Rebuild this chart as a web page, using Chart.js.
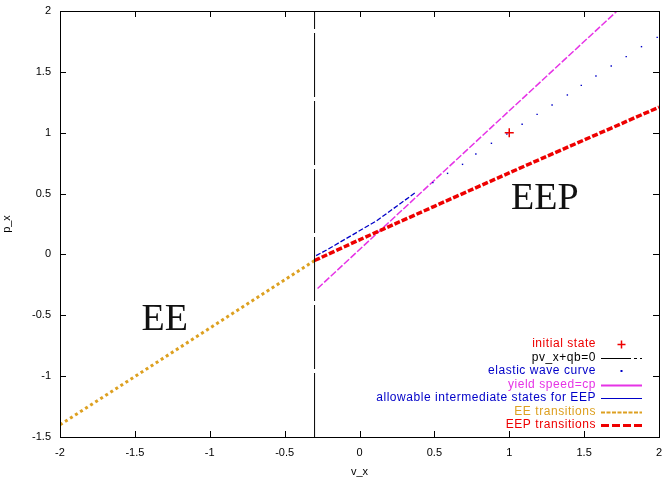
<!DOCTYPE html>
<html>
<head>
<meta charset="utf-8">
<script src="https://cdn.jsdelivr.net/npm/chart.js@4/dist/chart.umd.min.js"></script>
<style>
html,body{margin:0;padding:0;background:#fff;}
#c{display:block;}
</style>
</head>
<body>
<canvas id="c" width="668" height="478"></canvas>
<script>
// ---- data ----
const xTicks = [-2, -1.5, -1, -0.5, 0, 0.5, 1, 1.5, 2];
const yTicks = [-1.5, -1, -0.5, 0, 0.5, 1, 1.5, 2];

const initialStateX = [1];
const initialStateY = [1];

const pvLineX = [-0.3, -0.3];
const pvLineY = [-1.5, 2];

const elasticX = [0.49, 0.588, 0.688, 0.777, 0.881, 0.984, 1.086, 1.186, 1.286, 1.388, 1.481, 1.579, 1.681, 1.781, 1.883, 1.988];
const elasticY = [0.59, 0.666, 0.74, 0.825, 0.913, 0.99, 1.069, 1.151, 1.228, 1.31, 1.389, 1.466, 1.548, 1.625, 1.707, 1.783];

const yieldX = [-0.28, 0.5, 1.0, 1.72];
const yieldY = [-0.28, 0.61, 1.18, 2.0];

const allowX = [-0.29, -0.22, 0.115, 0.37];
const allowY = [-0.01, 0.036, 0.277, 0.505];

const eeX = [-2, -1, -0.3];
const eeY = [-1.4, -0.606, -0.05];

const eepX = [-0.3, 0, 1, 2];
const eepY = [-0.05, 0.12, 0.67, 1.21];

const seriesLabels = ["initial state", "pv_x+qb=0", "elastic wave curve", "yield speed=cp",
  "allowable intermediate states for EEP", "EE transitions", "EEP transitions"];

const RED = '#ee0000', BLUE = '#0000c8', MAG = '#e633e6', ORANGE = '#dda020', BLACK = '#000000';

function pts(xs, ys) { return xs.map((x, i) => ({x: x, y: ys[i]})); }

const regionLabels = [
  {text: 'EE', x: -1.3, y: -0.62},
  {text: 'EEP', x: 1.237, y: 0.37}
];

const overlay = {
  id: 'overlay',
  afterDraw(chart) {
    const ctx = chart.ctx;
    const a = chart.chartArea;
    const xs = chart.scales.x, ys = chart.scales.y;
    ctx.save();
    // frame
    ctx.strokeStyle = '#000';
    ctx.lineWidth = 1;
    ctx.strokeRect(Math.round(a.left) + 0.5, Math.round(a.top) + 0.5,
      Math.round(a.right - a.left), Math.round(a.bottom - a.top));
    // ticks (inward, mirrored)
    const tl = 6;
    ctx.beginPath();
    xTicks.forEach(v => {
      const px = Math.round(xs.getPixelForValue(v)) + 0.5;
      ctx.moveTo(px, a.bottom); ctx.lineTo(px, a.bottom - tl);
      ctx.moveTo(px, a.top); ctx.lineTo(px, a.top + tl);
    });
    yTicks.forEach(v => {
      const py = Math.round(ys.getPixelForValue(v)) + 0.5;
      ctx.moveTo(a.left, py); ctx.lineTo(a.left + tl, py);
      ctx.moveTo(a.right, py); ctx.lineTo(a.right - tl, py);
    });
    ctx.stroke();

    // axis titles
    ctx.fillStyle = '#000';
    ctx.font = '11px "Liberation Sans", Arial, sans-serif';
    ctx.textAlign = 'center';
    ctx.textBaseline = 'middle';
    ctx.fillText('v_x', (a.left + a.right) / 2, 472);
    ctx.save();
    ctx.translate(7, (a.top + a.bottom) / 2);
    ctx.rotate(-Math.PI / 2);
    ctx.fillText('p_x', 0, 0);
    ctx.restore();

    // region labels
    ctx.font = '38px "Liberation Serif", "Times New Roman", serif';
    ctx.fillStyle = '#111';
    ctx.textBaseline = 'alphabetic';
    regionLabels.forEach(r => {
      ctx.fillText(r.text, xs.getPixelForValue(r.x), ys.getPixelForValue(r.y));
    });

    // legend
    const textRight = 596, sL = 601, sR = 642, y0 = 344, dy = 13.5;
    ctx.font = '12px "Liberation Sans", Arial, sans-serif';
    ctx.textAlign = 'right';
    ctx.textBaseline = 'middle';
    try { ctx.letterSpacing = '0.55px'; } catch (e) {}
    const legendColors = [RED, BLACK, BLUE, MAG, BLUE, ORANGE, RED];
    seriesLabels.forEach((lab, i) => {
      const y = y0 + i * dy;
      ctx.fillStyle = legendColors[i];
      ctx.fillText(lab, textRight, y);
    });
    try { ctx.letterSpacing = '0px'; } catch (e) {}
    // samples
    const yy = i => Math.round(y0 + i * dy) + 0.5;
    const cx = (sL + sR) / 2;
    ctx.strokeStyle = RED; ctx.lineWidth = 1.5; ctx.setLineDash([]);
    ctx.beginPath();
    ctx.moveTo(cx - 4, yy(0)); ctx.lineTo(cx + 4, yy(0));
    ctx.moveTo(cx, yy(0) - 4); ctx.lineTo(cx, yy(0) + 4);
    ctx.stroke();
    ctx.strokeStyle = BLACK; ctx.lineWidth = 1; ctx.setLineDash([30, 3, 3, 3]);
    ctx.beginPath(); ctx.moveTo(sL, yy(1)); ctx.lineTo(sR, yy(1)); ctx.stroke();
    ctx.setLineDash([]);
    ctx.fillStyle = BLUE;
    ctx.fillRect(cx - 1, yy(2) - 1.5, 2, 2);
    ctx.strokeStyle = MAG; ctx.lineWidth = 2;
    ctx.beginPath(); ctx.moveTo(sL, yy(3)); ctx.lineTo(sR, yy(3)); ctx.stroke();
    ctx.strokeStyle = BLUE; ctx.lineWidth = 1;
    ctx.beginPath(); ctx.moveTo(sL, yy(4)); ctx.lineTo(sR, yy(4)); ctx.stroke();
    ctx.strokeStyle = ORANGE; ctx.lineWidth = 2; ctx.setLineDash([4, 1.5]);
    ctx.beginPath(); ctx.moveTo(sL, yy(5)); ctx.lineTo(sR, yy(5)); ctx.stroke();
    ctx.strokeStyle = RED; ctx.lineWidth = 3; ctx.setLineDash([8, 3]);
    ctx.beginPath(); ctx.moveTo(sL, yy(6)); ctx.lineTo(sR, yy(6)); ctx.stroke();
    ctx.restore();
  }
};

const tickFont = { family: '"Liberation Sans", Arial, sans-serif', size: 11 };

new Chart(document.getElementById('c'), {
  type: 'scatter',
  data: {
    datasets: [
      { label: seriesLabels[0], data: pts(initialStateX, initialStateY), showLine: false,
        pointStyle: 'cross', pointRadius: 4.5, borderColor: RED, backgroundColor: RED, pointBorderWidth: 1.5 },
      { label: seriesLabels[1], data: pts(pvLineX, pvLineY), showLine: true, pointRadius: 0,
        borderColor: BLACK, borderWidth: 1, borderDash: [64, 4] },
      { label: seriesLabels[2], data: pts(elasticX, elasticY), showLine: false,
        pointStyle: 'rect', pointRadius: 1, borderWidth: 0, backgroundColor: BLUE, borderColor: BLUE },
      { label: seriesLabels[6], data: pts(eepX, eepY), showLine: true, pointRadius: 0,
        borderColor: RED, borderWidth: 3.5, borderDash: [6, 2], tension: 0.2 },
      { label: seriesLabels[5], data: pts(eeX, eeY), showLine: true, pointRadius: 0,
        borderColor: ORANGE, borderWidth: 3, borderDash: [3, 3] },
      { label: seriesLabels[3], data: pts(yieldX, yieldY), showLine: true, pointRadius: 0,
        borderColor: MAG, borderWidth: 1.5, borderDash: [7, 2] },
      { label: seriesLabels[4], data: pts(allowX, allowY), showLine: true, pointRadius: 0,
        borderColor: BLUE, borderWidth: 1.3, borderDash: [5, 2] }
    ]
  },
  options: {
    responsive: false,
    animation: false,
    devicePixelRatio: 1,
    layout: { padding: { top: 11, right: 9, left: 0, bottom: 0 } },
    plugins: { legend: { display: false }, tooltip: { enabled: false } },
    scales: {
      x: {
        type: 'linear', min: -2, max: 2,
        afterBuildTicks: s => { s.ticks = xTicks.map(v => ({value: v})); },
        afterFit: s => { s.height = 41; s.paddingLeft = 0; s.paddingRight = 0; },
        grid: { display: false, drawTicks: false },
        border: { display: false },
        ticks: { color: '#000', padding: 9, maxRotation: 0, autoSkip: false, font: tickFont,
          callback: v => String(v) }
      },
      y: {
        type: 'linear', min: -1.5, max: 2,
        afterBuildTicks: s => { s.ticks = yTicks.map(v => ({value: v})); },
        afterFit: s => { s.width = 60; s.paddingTop = 0; s.paddingBottom = 0; },
        grid: { display: false, drawTicks: false },
        border: { display: false },
        ticks: { color: '#000', padding: 9, autoSkip: false, font: tickFont,
          callback: v => String(v) }
      }
    }
  },
  plugins: [overlay]
});
</script>
</body>
</html>
